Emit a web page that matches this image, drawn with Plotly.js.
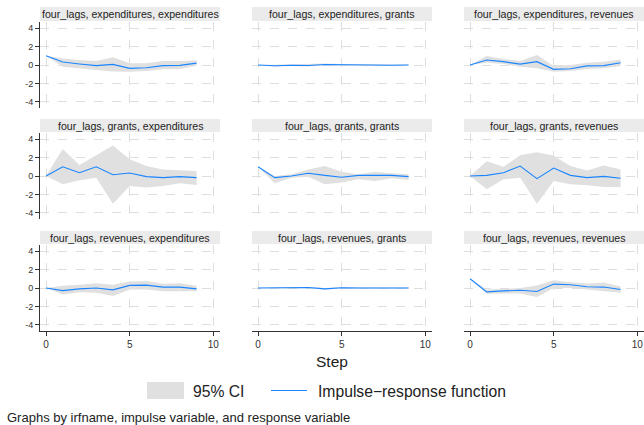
<!DOCTYPE html>
<html><head><meta charset="utf-8">
<script src="https://cdn.plot.ly/plotly-3.0.1.min.js"></script>
<style>body{margin:0;padding:0;background:#fff}#chart{width:644px;height:425px}</style>
</head><body><div id="chart"></div>
<script>
const steps = [0,1,2,3,4,5,6,7,8,9];
const panelTitles = [
  "four_lags, expenditures, expenditures","four_lags, expenditures, grants","four_lags, expenditures, revenues",
  "four_lags, grants, expenditures","four_lags, grants, grants","four_lags, grants, revenues",
  "four_lags, revenues, expenditures","four_lags, revenues, grants","four_lags, revenues, revenues"];
// IRF values
const irf_exp_exp = [1.0,0.32,0.11,-0.07,0.07,-0.36,-0.29,-0.07,-0.04,0.2];
const irf_exp_gra = [0,-0.08,-0.02,-0.05,0.05,0.02,0.01,0.0,-0.02,0.0];
const irf_exp_rev = [0,0.54,0.36,0.1,0.36,-0.47,-0.4,-0.1,-0.07,0.25];
const irf_gra_exp = [0,1.0,0.36,1.0,0.14,0.32,-0.07,-0.18,-0.07,-0.18];
const irf_gra_gra = [1.0,-0.18,0,0.29,0.07,-0.14,0.07,0.07,0.07,-0.07];
const irf_gra_rev = [0,0.07,0.36,1.07,-0.29,0.86,0.07,-0.18,-0.04,-0.25];
const irf_rev_exp = [0,-0.28,-0.1,0,-0.2,0.28,0.31,0.1,0.1,-0.1];
const irf_rev_gra = [0,0.04,0.02,0.05,-0.1,0.02,0.0,-0.01,0.01,0.0];
const irf_rev_rev = [1.0,-0.42,-0.31,-0.24,-0.38,0.42,0.35,0.14,0.1,-0.17];
// 95% CI upper
const up_exp_exp = [1.0,0.7,0.55,0.43,0.83,0.18,0.2,0.43,0.43,0.5];
const up_exp_gra = [0,0.04,0.06,0.05,0.15,0.1,0.09,0.07,0.06,0.06];
const up_exp_rev = [0,0.97,0.65,0.43,1.08,-0.1,0,0.25,0.36,0.6];
const up_gra_exp = [0,2.93,1.18,2.25,3.3,1.8,1.07,0.7,0.6,0.54];
const up_gra_gra = [1.0,0,0.18,0.71,1.07,0.46,0.18,0.46,0.29,0.18];
const up_gra_rev = [0,1.6,1.0,2.25,2.57,2.2,1.07,0.6,1.14,0.71];
const up_rev_exp = [0,0.24,0.35,0.52,0.35,0.7,0.77,0.45,0.52,0.24];
const up_rev_gra = [0,0.12,0.1,0.1,0.0,0.1,0.07,0.06,0.07,0.05];
const up_rev_rev = [1.0,-0.17,-0.1,0,0.28,0.84,0.63,0.49,0.59,0.17];
// 95% CI lower
const lo_exp_exp = [1.0,-0.2,-0.35,-0.55,-0.7,-0.72,-0.65,-0.47,-0.43,-0.07];
const lo_exp_gra = [0,-0.2,-0.1,-0.15,-0.05,-0.07,-0.08,-0.08,-0.1,-0.06];
const lo_exp_rev = [0,0.25,0.1,-0.18,-0.36,-0.72,-0.65,-0.43,-0.36,-0.1];
const lo_gra_exp = [0,-0.9,-0.46,-0.18,-3.0,-1.07,-1.25,-1.07,-0.79,-0.96];
const lo_gra_gra = [1.0,-0.79,-0.18,-0.07,-0.89,-0.71,-0.36,-0.54,-0.25,-0.43];
const lo_gra_rev = [0,-1.43,-0.36,-0.18,-3.0,-0.54,-0.9,-1.0,-1.18,-1.18];
const lo_rev_exp = [0,-0.7,-0.45,-0.52,-0.87,-0.17,-0.17,-0.35,-0.35,-0.35];
const lo_rev_gra = [0,-0.05,-0.06,0.0,-0.2,-0.06,-0.07,-0.08,-0.05,-0.05];
const lo_rev_rev = [1.0,-0.63,-0.59,-0.59,-0.97,0,0,-0.24,-0.35,-0.52];
const xTickVals = [0,5,10];
const xTickText = ["0","5","10"];
const yTickVals = [-4,-2,0,2,4];
const yTickText = ["-4","-2","0","2","4"];

const irfs = [irf_exp_exp,irf_exp_gra,irf_exp_rev,irf_gra_exp,irf_gra_gra,irf_gra_rev,irf_rev_exp,irf_rev_gra,irf_rev_rev];
const ups = [up_exp_exp,up_exp_gra,up_exp_rev,up_gra_exp,up_gra_gra,up_gra_rev,up_rev_exp,up_rev_gra,up_rev_rev];
const los = [lo_exp_exp,lo_exp_gra,lo_exp_rev,lo_gra_exp,lo_gra_gra,lo_gra_rev,lo_rev_exp,lo_rev_gra,lo_rev_rev];

const W = 644, H = 425;
const colPx = [[40,220],[252,432],[464,644]];
const rowPx = [[22,108],[133,219],[245,331]];
const stripPx = [[7,21],[119,132],[231,244]];
const FONT = "Liberation Sans, Arial, sans-serif";
const CI_COLOR = "#e0e0e0", LINE_COLOR = "#1a85ff";

const traces = [], shapes = [], annotations = [];
const layout = {width:W,height:H,margin:{l:0,r:0,t:0,b:0},paper_bgcolor:"#fff",plot_bgcolor:"#fff",
  showlegend:false,font:{family:FONT,color:"#333",size:9}};

for (let i=0;i<9;i++){
  const r = Math.floor(i/3), c = i%3, n = i+1;
  const xa = n===1?"x":"x"+n, ya = n===1?"y":"y"+n;
  const xk = n===1?"xaxis":"xaxis"+n, yk = n===1?"yaxis":"yaxis"+n;
  traces.push({type:"scatter",mode:"lines",xaxis:xa,yaxis:ya,
    x:steps.concat(steps.slice().reverse()),
    y:ups[i].concat(los[i].slice().reverse()),
    fill:"toself",fillcolor:CI_COLOR,line:{width:0,color:CI_COLOR},hoverinfo:"skip",name:"95% CI"});
  traces.push({type:"scatter",mode:"lines",xaxis:xa,yaxis:ya,x:steps,y:irfs[i],
    line:{color:LINE_COLOR,width:1.1},name:"Impulse-response function"});
  const bottom = r===2, left = c===0;
  layout[xk] = {domain:[colPx[c][0]/W,colPx[c][1]/W],anchor:ya,range:[-0.36,10.4],
    tickvals:xTickVals,ticktext:xTickText,showticklabels:bottom,ticks:bottom?"outside":"",ticklen:4,tickcolor:"#333",
    showline:bottom,linecolor:"#333",linewidth:1,showgrid:true,gridcolor:"#dedede",griddash:"dash",gridwidth:1,
    zeroline:false,tickfont:{size:10,color:"#333"},fixedrange:true};
  layout[yk] = {domain:[1-rowPx[r][1]/H,1-rowPx[r][0]/H],anchor:xa,range:[-4.65,4.65],
    tickvals:yTickVals,ticktext:yTickText,showticklabels:left,ticks:left?"outside":"",ticklen:4,tickcolor:"#333",
    showline:left,linecolor:"#333",linewidth:1,showgrid:true,gridcolor:"#dedede",griddash:"dash",gridwidth:1,
    zeroline:false,tickfont:{size:9,color:"#333"},fixedrange:true};
  shapes.push({type:"rect",xref:"paper",yref:"paper",x0:colPx[c][0]/W,x1:colPx[c][1]/W,
    y0:1-stripPx[r][1]/H,y1:1-stripPx[r][0]/H,fillcolor:"#ebebeb",line:{width:0},layer:"below"});
  annotations.push({xref:"paper",yref:"paper",x:(colPx[c][0]+colPx[c][1])/2/W,y:1-(stripPx[r][0]+stripPx[r][1])/2/H,
    text:panelTitles[i],showarrow:false,xanchor:"center",yanchor:"middle",font:{size:10.6,color:"#222",family:FONT}});
}
// x title
annotations.push({xref:"paper",yref:"paper",x:332/W,y:1-361/H,text:"Step",showarrow:false,xanchor:"center",yanchor:"middle",font:{size:15.5,color:"#222",family:FONT}});
// legend
shapes.push({type:"rect",xref:"paper",yref:"paper",x0:147/W,x1:184/W,y0:1-399/H,y1:1-382/H,fillcolor:CI_COLOR,line:{width:0}});
annotations.push({xref:"paper",yref:"paper",x:191/W,y:1-391/H,text:"95% CI",showarrow:false,xanchor:"left",yanchor:"middle",font:{size:15.7,color:"#222",family:FONT}});
shapes.push({type:"line",xref:"paper",yref:"paper",x0:271/W,x1:307/W,y0:1-390.5/H,y1:1-390.5/H,line:{color:LINE_COLOR,width:1.2}});
annotations.push({xref:"paper",yref:"paper",x:316/W,y:1-391/H,text:"Impulse\u2212response function",showarrow:false,xanchor:"left",yanchor:"middle",font:{size:15.7,color:"#222",family:FONT}});
// note
annotations.push({xref:"paper",yref:"paper",x:5/W,y:1-417/H,text:"Graphs by irfname, impulse variable, and response variable",showarrow:false,xanchor:"left",yanchor:"middle",font:{size:13,color:"#222",family:FONT}});
layout.shapes = shapes; layout.annotations = annotations;
Plotly.newPlot("chart",traces,layout,{staticPlot:true,displayModeBar:false});
</script></body></html>
